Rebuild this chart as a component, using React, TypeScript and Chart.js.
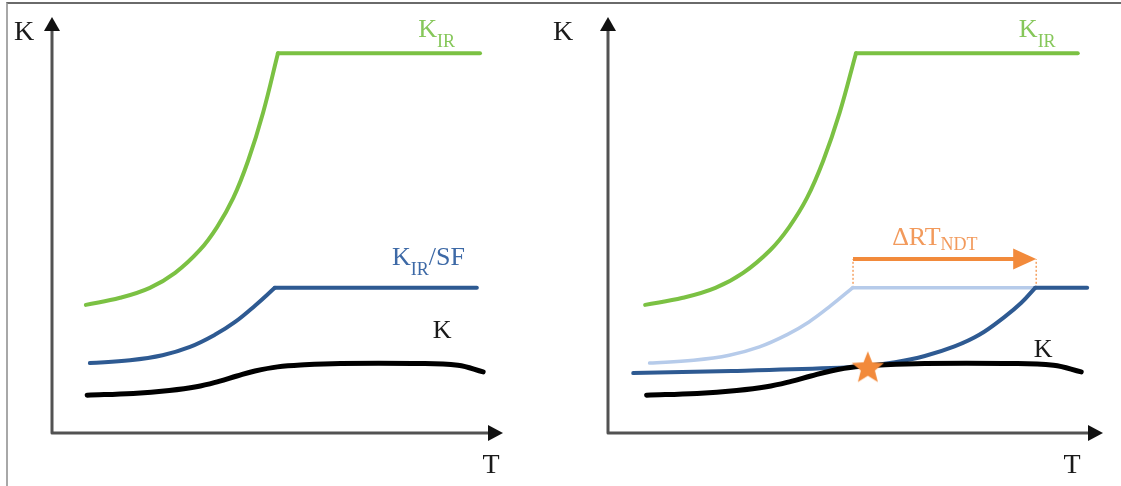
import { useEffect, useRef } from "react";
import { Chart, registerables } from "chart.js";

Chart.register(...registerables);

// Abstract units: 0..100 along T (x axis) and K (y axis), origin at the axis corner.
const kirCurveT = [7.5, 15.1, 21.7, 27.3, 32.8, 36.6, 40.2, 43.5, 46.8, 50.1];
const kirCurveK = [30.8, 32.5, 34.9, 38.5, 44.0, 49.5, 56.5, 65.5, 77.0, 91.3];
const kirPlateauT = [50.1, 94.9];
const kirPlateauK = [91.3, 91.3];

const kirSfCurveT = [8.4, 17.3, 24.5, 30.6, 36.1, 40.6, 45.0, 49.4];
const kirSfCurveK = [16.8, 17.5, 18.7, 20.7, 23.6, 26.7, 30.6, 34.9];
const kirSfPlateauT = [49.4, 94.2];
const kirSfPlateauK = [34.9, 34.9];
const kirSfPlateauShortT = [49.4, 86.3];

const shiftedCurveT = [5.1, 25, 45, 52, 58, 64, 70, 75, 80, 83.5, 86.3];
const shiftedCurveK = [14.4, 14.9, 15.6, 16.1, 17.0, 18.5, 20.8, 23.6, 27.8, 31.3, 34.9];
const shiftedPlateauT = [86.3, 96.8];
const shiftedPlateauK = [34.9, 34.9];

const kT = [7.8, 18, 26, 32, 37, 41, 45, 50, 56, 64, 80, 90, 95.6];
const kK = [9.1, 9.5, 10.2, 11.1, 12.4, 13.7, 14.9, 15.9, 16.4, 16.7, 16.7, 16.3, 14.7];

const intersectT = [52.5];
const intersectK = [15.8];

const deltaArrowT = [49.5, 86.5];
const deltaArrowK = [41.8, 41.8];
const dropLeftT = [49.5, 49.5];
const dropRightT = [86.5, 86.5];
const dropK = [34.9, 41.8];

const GREEN = "#7BC143";
const GREEN_TEXT = "#86C75A";
const DARK_BLUE = "#2E5A92";
const BLUE_TEXT = "#3D69A6";
const LIGHT_BLUE = "#B6CBEA";
const ORANGE = "#F28A3B";
const ORANGE_TEXT = "#F29A5C";

const SERIF = '"Liberation Serif", "Times New Roman", serif';

type Label = {
  t: number;
  k: number;
  main: string;
  sub?: string;
  tail?: string;
  color: string;
  align?: "left" | "center";
  subDy?: number;
};

function pts(t: number[], k: number[]) {
  return t.map((x, i) => ({ x, y: k[i] }));
}

function lineDs(t: number[], k: number[], color: string, width: number, order: number, extra: any = {}) {
  return {
    type: "line",
    data: pts(t, k),
    borderColor: color,
    backgroundColor: color,
    borderWidth: width,
    pointRadius: 0,
    tension: 0.4,
    fill: false,
    clip: false,
    order,
    borderCapStyle: "round",
    borderJoinStyle: "round",
    ...extra,
  };
}

function drawRich(ctx: CanvasRenderingContext2D, x: number, y: number, l: Label) {
  const mainFont = `26px ${SERIF}`;
  const subFont = `18px ${SERIF}`;
  ctx.font = mainFont;
  const w1 = ctx.measureText(l.main).width;
  ctx.font = subFont;
  const w2 = l.sub ? ctx.measureText(l.sub).width : 0;
  ctx.font = mainFont;
  const w3 = l.tail ? ctx.measureText(l.tail).width : 0;
  const x0 = l.align === "center" ? x - (w1 + w2 + w3) / 2 : x;
  ctx.fillStyle = l.color;
  ctx.textAlign = "left";
  ctx.textBaseline = "alphabetic";
  ctx.font = mainFont;
  ctx.fillText(l.main, x0, y);
  if (l.sub) {
    ctx.font = subFont;
    ctx.fillText(l.sub, x0 + w1, y + (l.subDy ?? 10));
  }
  if (l.tail) {
    ctx.font = mainFont;
    ctx.fillText(l.tail, x0 + w1 + w2, y);
  }
}

const decorPlugin = {
  id: "decor",
  beforeDatasetsDraw(chart: any, _args: any, opts: any) {
    const { ctx, chartArea: a } = chart;
    ctx.save();
    ctx.strokeStyle = "#525252";
    ctx.lineWidth = 3;
    ctx.lineJoin = "round";
    ctx.beginPath();
    ctx.moveTo(a.left, a.top + 12);
    ctx.lineTo(a.left, a.bottom);
    ctx.lineTo(a.right - 12, a.bottom);
    ctx.stroke();
    ctx.fillStyle = "#111";
    ctx.beginPath();
    ctx.moveTo(a.left, a.top);
    ctx.lineTo(a.left - 8, a.top + 14);
    ctx.lineTo(a.left + 8, a.top + 14);
    ctx.closePath();
    ctx.fill();
    ctx.beginPath();
    ctx.moveTo(a.right, a.bottom);
    ctx.lineTo(a.right - 15, a.bottom - 8);
    ctx.lineTo(a.right - 15, a.bottom + 8);
    ctx.closePath();
    ctx.fill();
    // axis titles
    ctx.fillStyle = "#1a1a1a";
    ctx.font = `28px ${SERIF}`;
    ctx.textAlign = "center";
    ctx.textBaseline = "alphabetic";
    ctx.fillText("K", a.left + opts.kDx, 40);
    ctx.fillText("T", a.right + opts.tDx, 473);
    ctx.restore();
  },
  afterDatasetsDraw(chart: any, _args: any, opts: any) {
    const { ctx } = chart;
    const xs = chart.scales.x;
    const ys = chart.scales.y;
    ctx.save();
    if (opts.arrow) {
      const x0 = xs.getPixelForValue(deltaArrowT[0]);
      const x1 = xs.getPixelForValue(deltaArrowT[1]);
      const y = ys.getPixelForValue(deltaArrowK[0]);
      ctx.strokeStyle = ORANGE;
      ctx.fillStyle = ORANGE;
      ctx.lineWidth = 4;
      ctx.beginPath();
      ctx.moveTo(x0, y);
      ctx.lineTo(x1 - 18, y);
      ctx.stroke();
      ctx.beginPath();
      ctx.moveTo(x1, y);
      ctx.lineTo(x1 - 23, y - 10.5);
      ctx.lineTo(x1 - 23, y + 10.5);
      ctx.closePath();
      ctx.fill();
    }
    (opts.labels as Label[]).forEach((l) => {
      drawRich(ctx, xs.getPixelForValue(l.t), ys.getPixelForValue(l.k), l);
    });
    ctx.restore();
  },
};

function makeStar(): HTMLCanvasElement {
  const c = document.createElement("canvas");
  c.width = 38;
  c.height = 38;
  const g = c.getContext("2d")!;
  const R = 17;
  const r = 7.4;
  g.fillStyle = ORANGE;
  g.beginPath();
  for (let i = 0; i < 10; i++) {
    const ang = -Math.PI / 2 + (i * Math.PI) / 5;
    const rad = i % 2 === 0 ? R : r;
    const px = 19 + rad * Math.cos(ang);
    const py = 20 + rad * Math.sin(ang);
    if (i === 0) g.moveTo(px, py);
    else g.lineTo(px, py);
  }
  g.closePath();
  g.fill();
  return c;
}

function makeConfig(side: "left" | "right"): any {
  const datasets: any[] = [];
  let padding: any;
  let decor: any;
  if (side === "left") {
    padding = { left: 52, right: 57, top: 17, bottom: 53 };
    datasets.push(lineDs(kirCurveT, kirCurveK, GREEN, 4, 4));
    datasets.push(lineDs(kirPlateauT, kirPlateauK, GREEN, 4, 4));
    datasets.push(lineDs(kirSfCurveT, kirSfCurveK, DARK_BLUE, 4, 2));
    datasets.push(lineDs(kirSfPlateauT, kirSfPlateauK, DARK_BLUE, 4, 2));
    datasets.push(lineDs(kT, kK, "#000", 5, 1));
    decor = {
      kDx: -28,
      tDx: -12,
      arrow: false,
      labels: [
        { t: 81.2, k: 95.2, main: "K", sub: "IR", color: GREEN_TEXT },
        { t: 75.4, k: 40.4, main: "K", sub: "IR", tail: "/SF", color: BLUE_TEXT },
        { t: 86.5, k: 22.8, main: "K", color: "#1a1a1a", align: "center" },
      ],
    };
  } else {
    padding = { left: 78, right: 18, top: 17, bottom: 53 };
    datasets.push({
      type: "line",
      data: pts(intersectT, intersectK),
      showLine: false,
      pointStyle: makeStar(),
      pointRadius: 16,
      clip: false,
      order: 0,
    });
    datasets.push(lineDs(kirCurveT, kirCurveK, GREEN, 4, 5));
    datasets.push(lineDs(kirPlateauT, kirPlateauK, GREEN, 4, 5));
    datasets.push(lineDs(kirSfCurveT, kirSfCurveK, LIGHT_BLUE, 3.5, 4));
    datasets.push(lineDs(kirSfPlateauShortT, kirSfPlateauK, LIGHT_BLUE, 3.5, 4));
    datasets.push(lineDs(shiftedCurveT, shiftedCurveK, DARK_BLUE, 4, 2));
    datasets.push(lineDs(shiftedPlateauT, shiftedPlateauK, DARK_BLUE, 4, 2));
    datasets.push(lineDs(kT, kK, "#000", 5, 1));
    datasets.push(
      lineDs(dropLeftT, dropK, ORANGE, 1.2, 6, { borderDash: [2, 2], tension: 0, borderCapStyle: "butt" })
    );
    datasets.push(
      lineDs(dropRightT, dropK, ORANGE, 1.2, 6, { borderDash: [2, 2], tension: 0, borderCapStyle: "butt" })
    );
    decor = {
      kDx: -45,
      tDx: -31,
      arrow: true,
      labels: [
        { t: 83.0, k: 95.2, main: "K", sub: "IR", color: GREEN_TEXT },
        { t: 57.4, k: 45.2, main: "\u0394RT", sub: "NDT", color: ORANGE_TEXT, subDy: 5 },
        { t: 87.9, k: 18.3, main: "K", color: "#1a1a1a", align: "center" },
      ],
    };
  }
  return {
    type: "line",
    data: { datasets },
    options: {
      responsive: false,
      animation: false,
      events: [],
      layout: { padding },
      scales: {
        x: { type: "linear", min: 0, max: 100, display: false },
        y: { type: "linear", min: 0, max: 100, display: false },
      },
      plugins: {
        legend: { display: false },
        tooltip: { enabled: false },
        decor,
      },
    },
    plugins: [decorPlugin],
  };
}

export default function App() {
  const leftRef = useRef<HTMLCanvasElement>(null);
  const rightRef = useRef<HTMLCanvasElement>(null);
  useEffect(() => {
    const charts = [
      new Chart(leftRef.current!, makeConfig("left")),
      new Chart(rightRef.current!, makeConfig("right")),
    ];
    return () => charts.forEach((c) => c.destroy());
  }, []);
  return (
    <div
      style={{
        position: "absolute",
        left: 0,
        top: 0,
        width: 1121,
        height: 486,
        background: "#fff",
        overflow: "hidden",
      }}
    >
      <div
        style={{
          position: "absolute",
          left: 6,
          top: 2,
          right: 0,
          bottom: 0,
          borderLeft: "2px solid #a8a8a8",
          borderTop: "2px solid #6a6a6a",
        }}
      />
      <canvas ref={leftRef} width={560} height={486} style={{ position: "absolute", left: 0, top: 0 }} />
      <canvas ref={rightRef} width={591} height={486} style={{ position: "absolute", left: 530, top: 0 }} />
    </div>
  );
}
